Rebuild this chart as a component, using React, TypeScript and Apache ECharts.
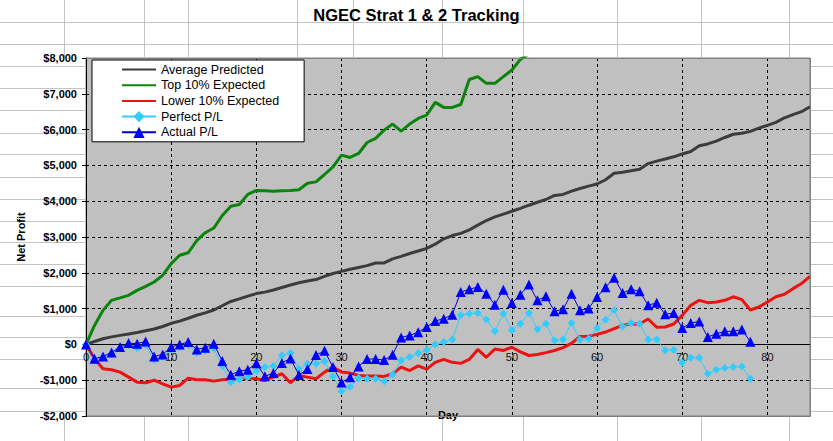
import React, { useEffect, useRef } from "react";
import * as echarts from "echarts";

// ---- Data ----
const avgPredicted = [
  0, 80, 159, 210, 252, 290, 330, 380, 430, 500,
  590, 650, 730, 815, 880, 960, 1080, 1200, 1270, 1350,
  1420, 1460, 1520, 1590, 1660, 1720, 1770, 1810, 1900, 1980,
  2040, 2100, 2150, 2200, 2275, 2275, 2390, 2460, 2540, 2610,
  2680, 2800, 2950, 3040, 3100, 3200, 3330, 3460, 3560, 3640,
  3720, 3800, 3888, 3970, 4047, 4160, 4190, 4280, 4355, 4420,
  4480, 4600, 4780, 4810, 4850, 4890, 5050, 5120, 5180, 5240,
  5320, 5390, 5547, 5600, 5680, 5780, 5870, 5900, 5950, 6040,
  6120, 6200, 6330, 6420, 6500, 6640,
];

const top10Expected = [
  0, 531, 951, 1231, 1300, 1371, 1510, 1622, 1743, 1930,
  2256, 2489, 2560, 2900, 3120, 3250, 3600, 3860, 3907, 4190,
  4300, 4290, 4280, 4290, 4300, 4320, 4500, 4540, 4746, 4960,
  5287, 5222, 5333, 5640, 5753, 5986, 6154, 5958, 6154, 6313,
  6405, 6760, 6620, 6620, 6700, 7400, 7480, 7292, 7292, 7478,
  7664, 7962, 8112, 8250,
];

const lower10Expected = [
  0, -400, -680, -708, -774, -914, -1054, -1072, -1000, -1100,
  -1194, -1147, -942, -988, -988, -1026, -988, -970, -988, -942,
  -960, -1007, -914, -820, -1072, -867, -914, -960, -774, -634,
  -774, -802, -867, -880, -880, -895, -820, -634, -730, -600,
  -690, -500, -420, -500, -530, -420, -140, -360, -130, -170,
  -80, -210, -310, -280, -230, -170, -90, 30, 220, 230,
  280, 345, 438, 531, 578, 570, 710, 480, 485, 570,
  810, 1091, 1231, 1166, 1184, 1231, 1330, 1250, 960, 1044,
  1184, 1330, 1400, 1557, 1700, 1900,
];

const perfectPL = [
  0, -420, -360, -260, -120, -30, -110, -20, -430, -350,
  -150, -80, -20, -230, -170, -110, -600, -1060, -980, -914,
  -740, -630, -600, -310, -240, -690, -540, -540, -470, -895,
  -1310, -1190, -942, -960, -960, -1026, -848, -448, -354, -250,
  -160, 0, 65, 140, 811, 858, 876, 699, 364, 858,
  392, 578, 876, 420, 578, 112, 140, 596, 131, 159,
  448, 690, 951, 503, 596, 578, 131, 140, -168, -149,
  -512, -373, -373, -820, -708, -662, -634, -615, -960,
];

const actualPL = [
  0, -400, -335, -224, -75, 36, 20, 84, -335, -280,
  -75, 0, 65, -140, -93, 20, -467, -848, -747, -708,
  -525, -890, -802, -518, -392, -853, -690, -298, -178, -634,
  -1063, -918, -615, -405, -410, -438, -289, 196, 252, 340,
  485, 652, 718, 830, 1464, 1538, 1604, 1418, 1110, 1530,
  1156, 1390, 1670, 1231, 1343, 923, 979, 1418, 951, 1005,
  1323, 1595, 1865, 1436, 1538, 1482, 1091, 1166, 839, 876,
  457, 596, 643, 205, 298, 364, 364, 415, 75,
];

const seriesNames = [
  "Average Predicted",
  "Top 10% Expected",
  "Lower 10% Expected",
  "Perfect P/L",
  "Actual P/L",
];

const dayMin = 0;
const dayMax = 85;
const dayStep = 10;
const profitMin = -2000;
const profitMax = 8000;
const profitStep = 1000;

// ---- Layout constants (spreadsheet background) ----
const W = 833;
const H = 441;
const PLOT = { left: 86, top: 58, right: 810, bottom: 416 };
const sheetRows = [22, 44, 66, 88, 110, 133, 154, 177, 199, 221, 242, 264, 286, 316, 337, 359, 388, 411];
const sheetCols = [64, 144, 188, 297, 353, 442, 523, 617, 701, 789];

const FONT = '"Liberation Sans", Arial, sans-serif';

const toPairs = (arr: number[]) => arr.map((v, i) => [i, v]);

const fmtMoney = (v: number) => {
  const s = "$" + Math.abs(v).toLocaleString("en-US");
  return v < 0 ? "-" + s : s;
};

function buildSheetLines() {
  const els: any[] = [];
  const style = { stroke: "#c4c4c4", lineWidth: 1 };
  sheetRows.forEach((y) => {
    const yy = y + 0.5;
    if (y < PLOT.top || y > PLOT.bottom) {
      els.push({ type: "line", shape: { x1: 0, y1: yy, x2: W, y2: yy }, style, silent: true });
    } else {
      els.push({ type: "line", shape: { x1: 0, y1: yy, x2: PLOT.left, y2: yy }, style, silent: true });
      els.push({ type: "line", shape: { x1: PLOT.right + 1, y1: yy, x2: W, y2: yy }, style, silent: true });
    }
  });
  sheetCols.forEach((x) => {
    const xx = x + 0.5;
    els.push({ type: "line", shape: { x1: xx, y1: 0, x2: xx, y2: PLOT.top }, style, silent: true });
    els.push({ type: "line", shape: { x1: xx, y1: PLOT.bottom + 1, x2: xx, y2: H }, style, silent: true });
  });
  return els;
}

const hiddenSymbol = { color: "rgba(0,0,0,0)", borderColor: "rgba(0,0,0,0)", borderWidth: 0 };

export default function App() {
  const ref = useRef<HTMLDivElement>(null);

  useEffect(() => {
    if (!ref.current) return;
    const chart = echarts.init(ref.current, null, { renderer: "svg" });

    const option: any = {
      animation: false,
      backgroundColor: "#ffffff",
      textStyle: { fontFamily: FONT },
      title: {
        text: "NGEC Strat 1 & 2 Tracking",
        left: "center",
        top: 6,
        padding: 0,
        textStyle: { fontFamily: FONT, fontSize: 16.5, fontWeight: "bold", color: "#000" },
      },
      legend: {
        data: [
          { name: seriesNames[0], itemStyle: hiddenSymbol },
          { name: seriesNames[1], itemStyle: hiddenSymbol },
          { name: seriesNames[2], itemStyle: hiddenSymbol },
          { name: seriesNames[3] },
          { name: seriesNames[4] },
        ],
        orient: "vertical",
        left: 92,
        top: 60,
        padding: [3, 25, 3, 29],
        itemWidth: 34,
        itemHeight: 14,
        itemGap: 2.7,
        backgroundColor: "#ffffff",
        borderColor: "#000000",
        borderWidth: 1,
        borderRadius: 0,
        textStyle: { fontFamily: FONT, fontSize: 12.5, color: "#000" },
      },
      grid: {
        left: PLOT.left,
        top: PLOT.top,
        right: W - PLOT.right,
        bottom: H - PLOT.bottom,
        show: true,
        backgroundColor: "#c0c0c0",
        borderColor: "#808080",
        borderWidth: 1,
        containLabel: false,
        outerBoundsMode: "none",
      },
      xAxis: {
        type: "value",
        min: dayMin,
        max: dayMax,
        interval: dayStep,
        name: "Day",
        nameLocation: "middle",
        nameGap: -7,
        nameTextStyle: { fontFamily: FONT, fontSize: 11, fontWeight: "bold", color: "#000" },
        axisLine: { show: true, onZero: true, lineStyle: { color: "#000", width: 1 } },
        axisTick: { show: false },
        axisLabel: {
          fontFamily: FONT,
          fontSize: 11,
          color: "#111",
          margin: -65,
          formatter: (v: number) => (v % dayStep === 0 ? String(v) : ""),
        },
        splitLine: { show: true, lineStyle: { color: "#000", width: 1, type: [3, 3] } },
      },
      yAxis: {
        type: "value",
        min: profitMin,
        max: profitMax,
        interval: profitStep,
        name: "Net Profit",
        nameLocation: "middle",
        nameGap: 60,
        nameRotate: 90,
        nameTextStyle: { fontFamily: FONT, fontSize: 11, fontWeight: "bold", color: "#000" },
        axisLine: { show: true, onZero: false, lineStyle: { color: "#000", width: 1 } },
        axisTick: { show: true, length: 4, lineStyle: { color: "#000" } },
        axisLabel: {
          fontFamily: FONT,
          fontSize: 11,
          fontWeight: "bold",
          color: "#000",
          margin: 9,
          formatter: fmtMoney,
        },
        splitLine: { show: true, lineStyle: { color: "#000", width: 1, type: [3, 3] } },
      },
      graphic: [
        ...buildSheetLines(),
        {
          type: "polyline",
          z: 100,
          silent: true,
          shape: {
            points: [
              [PLOT.left, PLOT.top + 0.5],
              [PLOT.right + 0.5, PLOT.top + 0.5],
              [PLOT.right + 0.5, PLOT.bottom + 0.5],
              [PLOT.left + 1, PLOT.bottom + 0.5],
            ],
          },
          style: { stroke: "#808080", lineWidth: 1, fill: null },
        },
      ],
      series: [
        {
          name: seriesNames[0],
          type: "line",
          data: toPairs(avgPredicted),
          symbol: "none",
          lineStyle: { color: "#3c3c3c", width: 3 },
          itemStyle: { color: "#3c3c3c" },
          z: 2,
        },
        {
          name: seriesNames[1],
          type: "line",
          data: toPairs(top10Expected),
          symbol: "none",
          lineStyle: { color: "#0b840b", width: 3 },
          itemStyle: { color: "#0b840b" },
          z: 3,
        },
        {
          name: seriesNames[2],
          type: "line",
          data: toPairs(lower10Expected),
          symbol: "none",
          lineStyle: { color: "#ee1111", width: 3 },
          itemStyle: { color: "#ee1111" },
          z: 4,
        },
        {
          name: seriesNames[3],
          type: "line",
          data: toPairs(perfectPL),
          symbol: "diamond",
          symbolSize: 8,
          lineStyle: { color: "#33ccff", width: 1 },
          itemStyle: { color: "#33ccff" },
          z: 5,
        },
        {
          name: seriesNames[4],
          type: "line",
          data: toPairs(actualPL),
          symbol: "triangle",
          symbolSize: 10,
          lineStyle: { color: "#0000cc", width: 1 },
          itemStyle: { color: "#0000ff" },
          z: 6,
        },
      ],
    };

    chart.setOption(option);
    return () => chart.dispose();
  }, []);

  return (
    <div
      ref={ref}
      style={{ position: "absolute", left: 0, top: 0, width: W, height: H, background: "#fff" }}
    />
  );
}
